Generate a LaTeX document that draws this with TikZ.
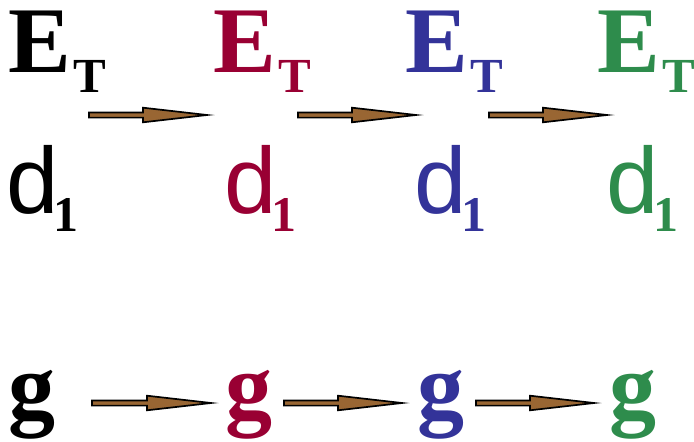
\documentclass[tikz,border=0pt]{standalone}
\usepackage{fontspec}
\setmainfont{Liberation Serif}
\newfontfamily\dsans{Liberation Sans}
\usetikzlibrary{calc}
\definecolor{cred}{RGB}{153,0,51}
\definecolor{cblue}{RGB}{51,51,153}
\definecolor{cgreen}{RGB}{46,140,76}
\definecolor{cbrown}{RGB}{153,102,51}
\newcommand{\ET}{\bfseries\fontsize{94}{94}\selectfont E\kern2pt\raisebox{-20pt}{\fontsize{49}{49}\selectfont T}}
\newcommand{\DI}{{\dsans\fontsize{94}{94}\selectfont d}\kern-5pt\raisebox{-18pt}{\bfseries\fontsize{50}{50}\selectfont 1}}
\newcommand{\GG}{\bfseries\fontsize{94}{94}\selectfont g}
\tikzset{
  lbl/.style={inner sep=0pt, outer sep=0pt, anchor=base west},
  etlbl/.style={lbl, text height=62pt},
  brarrow/.style={draw=black, fill=cbrown, line width=1.7pt, line join=miter,
    to path={($(\tikztostart)+(0,-2.6)$) -- ($(\tikztotarget)+(-64,-2.6)$) -- ($(\tikztotarget)+(-64,-7.3)$) -- (\tikztotarget) -- ($(\tikztotarget)+(-64,7.3)$) -- ($(\tikztotarget)+(-64,2.6)$) -- ($(\tikztostart)+(0,2.6)$) -- cycle}}
}
\begin{document}
\begin{tikzpicture}[x=1pt,y=-1pt]
\useasboundingbox (0,0) rectangle (694,442);
% E_T row
\node[etlbl, text=black]  (e1) at (8.5,72)   {\ET};
\node[etlbl, text=cred]   (e2) at (213.5,72) {\ET};
\node[etlbl, text=cblue]  (e3) at (405.5,72) {\ET};
\node[etlbl, text=cgreen] (e4) at (597.5,72) {\ET};
% d_1 row
\node[lbl, text=black]  (d1) at (6.5,213)   {\DI};
\node[lbl, text=cred]   (d2) at (224.5,213) {\DI};
\node[lbl, text=cblue]  (d3) at (414.5,213) {\DI};
\node[lbl, text=cgreen] (d4) at (606.5,213) {\DI};
% g row
\node[lbl, text=black]  (g1) at (9,418)   {\GG};
\node[lbl, text=cred]   (g2) at (225,418) {\GG};
\node[lbl, text=cblue]  (g3) at (417,418) {\GG};
\node[lbl, text=cgreen] (g4) at (609,418) {\GG};
% arrow end points
\coordinate (a1s) at (89,115);  \coordinate (a1e) at (207,115);
\coordinate (a2s) at (298,115); \coordinate (a2e) at (416,115);
\coordinate (a3s) at (489,115); \coordinate (a3e) at (607,115);
\coordinate (b1s) at (92,403);  \coordinate (b1e) at (211,403);
\coordinate (b2s) at (284,403); \coordinate (b2e) at (402,403);
\coordinate (b3s) at (476,403); \coordinate (b3e) at (594,403);
\draw[brarrow] (a1s) to (a1e);
\draw[brarrow] (a2s) to (a2e);
\draw[brarrow] (a3s) to (a3e);
\draw[brarrow] (b1s) to (b1e);
\draw[brarrow] (b2s) to (b2e);
\draw[brarrow] (b3s) to (b3e);
\end{tikzpicture}
\end{document}
